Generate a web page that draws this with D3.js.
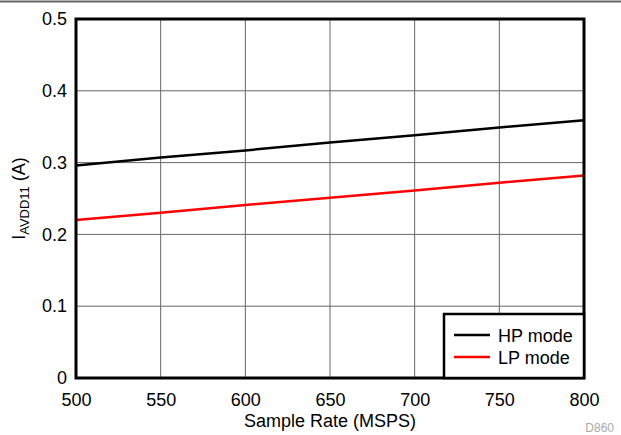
<!DOCTYPE html>
<html><head><meta charset="utf-8">
<script src="https://cdn.jsdelivr.net/npm/d3@7"></script>
<style>body{margin:0;background:#fff}svg{display:block;font-family:"Liberation Sans",Arial,sans-serif}</style>
</head><body><svg id="c" width="621" height="435"></svg>
<script>
const sampleRates = [500, 550, 600, 650, 700, 750, 800];
const hpMode = [0.296, 0.307, 0.317, 0.328, 0.338, 0.349, 0.359];
const lpMode = [0.220, 0.230, 0.241, 0.251, 0.261, 0.272, 0.282];
const xTicks = [500, 550, 600, 650, 700, 750, 800];
const yTicks = [0, 0.1, 0.2, 0.3, 0.4, 0.5];
const seriesNames = ["HP mode", "LP mode"];
const seriesColors = ["#000000", "#ff0000"];

const svg = d3.select("#c");
const L = 76, R = 584, T = 19, B = 378;
const FS = 18;
const x = d3.scaleLinear().domain([500, 800]).range([L, R]);
const y = d3.scaleLinear().domain([0, 0.5]).range([B, T]);

// top rule
svg.append("line").attr("x1", 0).attr("x2", 621).attr("y1", 1.5).attr("y2", 1.5)
  .attr("stroke", "#666").attr("stroke-width", 2);

// grid
svg.append("g").selectAll("line").data(xTicks.slice(1, -1)).join("line")
  .attr("x1", d => x(d)).attr("x2", d => x(d)).attr("y1", T).attr("y2", B)
  .attr("stroke", "#666").attr("stroke-width", 1);
svg.append("g").selectAll("line").data(yTicks.slice(1, -1)).join("line")
  .attr("x1", L).attr("x2", R).attr("y1", d => y(d)).attr("y2", d => y(d))
  .attr("stroke", "#666").attr("stroke-width", 1);

// axes labels
const xa = svg.append("g").attr("transform", `translate(0,${B})`)
  .call(d3.axisBottom(x).tickValues(xTicks).tickSize(0).tickPadding(15).tickFormat(d3.format("d")));
xa.select(".domain").remove();
xa.selectAll("text").attr("font-size", FS).attr("fill", "#000").attr("font-family", "Liberation Sans, Arial, sans-serif");
const ya = svg.append("g").attr("transform", `translate(${L},0)`)
  .call(d3.axisLeft(y).tickValues(yTicks).tickSize(0).tickPadding(9).tickFormat(d => d === 0 ? "0" : d3.format(".1f")(d)));
ya.select(".domain").remove();
ya.selectAll("text").attr("font-size", FS).attr("fill", "#000").attr("font-family", "Liberation Sans, Arial, sans-serif");

// lines
const line = d3.line().x((d, i) => x(sampleRates[i])).y(d => y(d));
[hpMode, lpMode].forEach((s, i) => {
  svg.append("path").datum(s).attr("d", line).attr("fill", "none")
    .attr("stroke", seriesColors[i]).attr("stroke-width", 2.5);
});

// frame
svg.append("rect").attr("x", L).attr("y", T).attr("width", R - L).attr("height", B - T)
  .attr("fill", "none").attr("stroke", "#000").attr("stroke-width", 3);

// legend
const lg = svg.append("g");
lg.append("rect").attr("x", 444).attr("y", 314).attr("width", R - 444).attr("height", B - 314)
  .attr("fill", "#fff").attr("stroke", "#000").attr("stroke-width", 2.5);
seriesNames.forEach((n, i) => {
  const yy = 335 + i * 22;
  lg.append("line").attr("x1", 454).attr("x2", 490).attr("y1", yy).attr("y2", yy)
    .attr("stroke", seriesColors[i]).attr("stroke-width", 2.5);
  lg.append("text").attr("x", 498).attr("y", yy + 6.5).attr("font-size", FS).text(n);
});

// axis titles
svg.append("text").attr("x", (L + R) / 2).attr("y", 427).attr("text-anchor", "middle")
  .attr("font-size", FS).text("Sample Rate (MSPS)");
const yt = svg.append("text").attr("transform", `translate(25,${(T + B) / 2}) rotate(-90)`)
  .attr("text-anchor", "middle").attr("font-size", FS);
yt.append("tspan").text("I");
yt.append("tspan").attr("font-size", 13).attr("dy", 4).text("AVDD11");
yt.append("tspan").attr("dy", -4).text(" (A)");

svg.append("text").attr("x", 614).attr("y", 432).attr("text-anchor", "end")
  .attr("font-size", 12).attr("fill", "#aaa").text("D860");
</script></body></html>
